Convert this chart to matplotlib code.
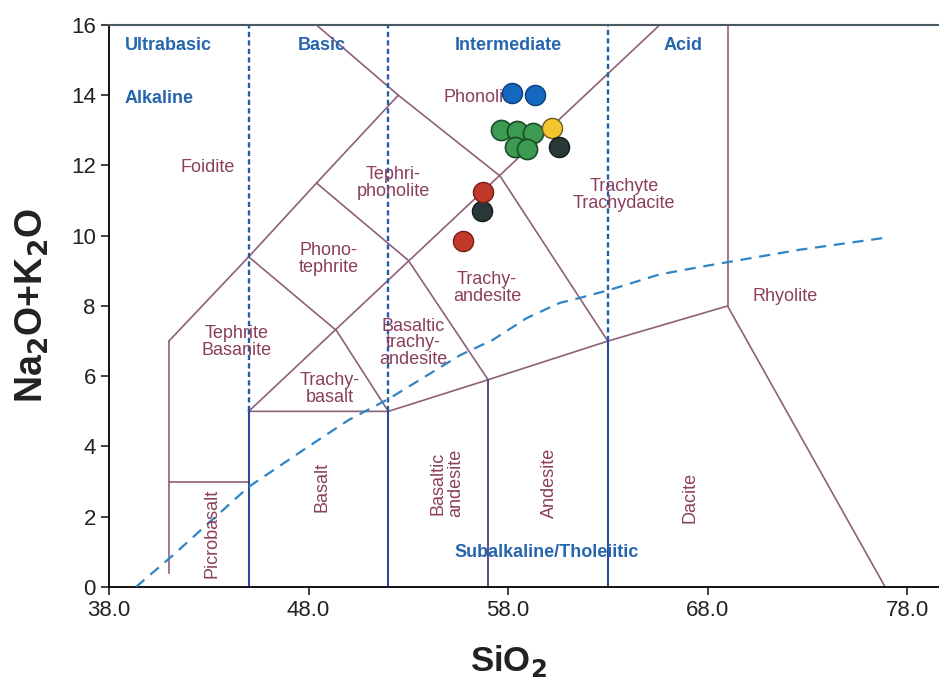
import matplotlib
matplotlib.use("Agg")
import matplotlib.pyplot as plt

plt.rcParams['font.family'] = ['Liberation Sans', 'DejaVu Sans']
plt.rcParams['mathtext.default'] = 'bf'

# sample analyses (wt%)
blue_sio2 = [58.2, 59.35]
blue_alk = [14.06, 14.0]
green_sio2 = [57.65, 58.45, 59.25, 58.35, 58.95]
green_alk = [13.01, 12.98, 12.93, 12.53, 12.47]
yellow_sio2 = [60.2]
yellow_alk = [13.07]
dark_sio2 = [60.55, 56.7]
dark_alk = [12.53, 10.7]
red_sio2 = [56.75, 55.75]
red_alk = [11.25, 9.85]

# Irvine & Baragar alkaline / subalkaline divide
ib_sio2 = [39.35, 41.2, 45.0, 48.0, 50.0, 52.0, 55.6, 57.25, 58.95, 60.6, 61.6, 63.1, 65.6, 68.0, 72.6, 77.0]
ib_alk = [0.0, 0.9, 2.85, 4.0, 4.75, 5.35, 6.6, 7.04, 7.66, 8.09, 8.23, 8.46, 8.9, 9.15, 9.6, 9.95]

# TAS field boundaries (Le Bas et al. 1986)
tas_lines = [
    ([41, 41], [0.4, 7]),
    ([41, 45], [3, 3]),
    ([41, 45, 48.4, 52.5], [7, 9.4, 11.5, 14]),
    ([48.4, 52.5, 57.6, 63], [16, 14, 11.7, 7]),
    ([45, 65.6], [5, 16]),
    ([45, 49.4, 52], [9.4, 7.3, 5]),
    ([48.4, 53, 57], [11.5, 9.3, 5.9]),
    ([45, 52, 57, 63, 69, 76.9], [5, 5, 5.9, 7, 8, 0]),
    ([69, 69], [8, 16]),
]

mauve = '#8e6079'
rock = '#8a3f5c'
blue = '#2666ad'

fig = plt.figure(figsize=(9.39, 6.85), dpi=100)
ax = fig.add_axes([0.1161, 0.1431, 0.8839, 0.8204])
ax.set_xlim(38, 79.6)
ax.set_ylim(0, 16)

for xs, ys in tas_lines:
    ax.plot(xs, ys, color=mauve, lw=1.2, zorder=2)

# SiO2 class dividers
for x, ybreak in [(45, 5), (52, 5), (63, 7)]:
    ax.plot([x, x], [0, ybreak], color='#2b4a9a', lw=1.5, zorder=2)
    ax.plot([x, x], [ybreak, 16], color='#1f5fa8', lw=1.7, ls=(0, (2.2, 1.4)), zorder=2)
ax.plot([57, 57], [0, 5.9], color='#5f4a86', lw=1.4, zorder=2)

ax.plot(ib_sio2, ib_alk, color='#2f85c4', lw=1.6, ls=(0, (5, 3.5)), zorder=3)

# field names
fs = 13
rs = 13
ax.text(42.96, 11.93, 'Foidite', color=rock, fontsize=fs, ha='center', va='center')
ax.text(56.65, 13.95, 'Phonolite', color=rock, fontsize=fs, ha='center', va='center')
ax.text(52.24, 11.5, 'Tephri-\nphonolite', color=rock, fontsize=fs, ha='center', va='center', linespacing=1.0)
ax.text(63.8, 11.15, 'Trachyte\nTrachydacite', color=rock, fontsize=fs, ha='center', va='center', linespacing=1.0)
ax.text(49.0, 9.35, 'Phono-\ntephrite', color=rock, fontsize=fs, ha='center', va='center', linespacing=1.0)
ax.text(56.95, 8.5, 'Trachy-\nandesite', color=rock, fontsize=fs, ha='center', va='center', linespacing=1.0)
ax.text(71.9, 8.26, 'Rhyolite', color=rock, fontsize=fs, ha='center', va='center')
ax.text(44.4, 6.97, 'Tephrite\nBasanite', color=rock, fontsize=fs, ha='center', va='center', linespacing=1.0)
ax.text(53.24, 6.95, 'Basaltic\ntrachy-\nandesite', color=rock, fontsize=fs, ha='center', va='center', linespacing=0.95)
ax.text(49.07, 5.64, 'Trachy-\nbasalt', color=rock, fontsize=fs, ha='center', va='center', linespacing=1.0)
ax.text(43.16, 1.54, 'Picrobasalt', color=rock, fontsize=rs, ha='center', va='center', rotation=90)
ax.text(48.68, 2.85, 'Basalt', color=rock, fontsize=rs, ha='center', va='center', rotation=90)
ax.text(54.94, 2.96, 'Basaltic\nandesite', color=rock, fontsize=rs, ha='center', va='center', rotation=90, linespacing=1.0)
ax.text(60.1, 2.96, 'Andesite', color=rock, fontsize=rs, ha='center', va='center', rotation=90)
ax.text(67.12, 2.56, 'Dacite', color=rock, fontsize=rs, ha='center', va='center', rotation=90)

# series names
bs = 13
ax.text(38.8, 15.43, 'Ultrabasic', color=blue, fontsize=bs, fontweight='bold', va='center')
ax.text(48.68, 15.43, 'Basic', color=blue, fontsize=bs, fontweight='bold', ha='center', va='center')
ax.text(58.0, 15.43, 'Intermediate', color=blue, fontsize=bs, fontweight='bold', ha='center', va='center')
ax.text(66.77, 15.43, 'Acid', color=blue, fontsize=bs, fontweight='bold', ha='center', va='center')
ax.text(38.8, 13.92, 'Alkaline', color=blue, fontsize=bs, fontweight='bold', va='center')
ax.text(59.95, 0.97, 'Subalkaline/Tholeiitic', color=blue, fontsize=bs, fontweight='bold', ha='center', va='center')

# samples
ms = 210
ax.scatter(blue_sio2, blue_alk, s=ms, c='#1468bf', edgecolors='#0c3f78', linewidths=1.0, zorder=5)
ax.scatter(green_sio2, green_alk, s=ms, c='#3c9a52', edgecolors='#1b4d2a', linewidths=1.2, zorder=5)
ax.scatter(yellow_sio2, yellow_alk, s=ms, c='#f2c530', edgecolors='#6b5a1a', linewidths=1.0, zorder=5)
ax.scatter(dark_sio2, dark_alk, s=ms, c='#283838', edgecolors='#121c1c', linewidths=1.0, zorder=5)
ax.scatter(red_sio2, red_alk, s=ms, c='#c0392b', edgecolors='#7a1f17', linewidths=1.0, zorder=5)

ax.set_xticks([38, 48, 58, 68, 78])
ax.set_xticklabels(['38.0', '48.0', '58.0', '68.0', '78.0'])
ax.set_yticks(range(0, 17, 2))
ax.tick_params(labelsize=16, direction='out', length=6, width=1.2, colors='#222222')
ax.spines['right'].set_visible(False)
ax.spines['top'].set_color('#4a5a60')
ax.spines['top'].set_linewidth(1.5)
ax.spines['left'].set_linewidth(1.3)
ax.spines['bottom'].set_linewidth(1.3)

ax.set_xlabel('SiO$_2$', fontsize=25, fontweight='bold', color='#222222')
ax.set_ylabel('Na$_2$O+K$_2$O', fontsize=27, fontweight='bold', color='#222222')
ax.xaxis.set_label_coords(0.481, -0.1)
ax.yaxis.set_label_coords(-0.07, 0.5)

fig.savefig('out.png', dpi=100)
